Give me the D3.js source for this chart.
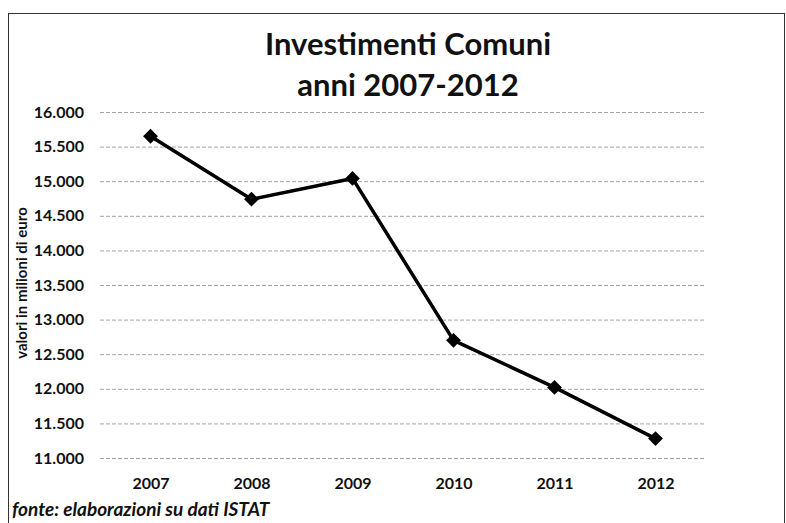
<!DOCTYPE html>
<html>
<head>
<meta charset="utf-8">
<script src="https://cdn.jsdelivr.net/npm/d3@7"></script>
<style>
  html, body { margin: 0; padding: 0; background: #fff; }
  svg { display: block; font-family: Lato, "Open Sans", sans-serif; }
</style>
</head>
<body>
<svg id="chart" width="786" height="523"></svg>
<script>
const years = ["2007", "2008", "2009", "2010", "2011", "2012"];
const values = [15650, 14740, 15040, 12700, 12020, 11280];
const yTickValues = [11000, 11500, 12000, 12500, 13000, 13500, 14000, 14500, 15000, 15500, 16000];
const titleLines = ["Investimenti Comuni", "anni 2007-2012"];
const yAxisTitle = "valori in milioni di euro";
const sourceNote = "fonte: elaborazioni su dati ISTAT";

const svg = d3.select("#chart");
const W = 786, H = 523;
const plot = { left: 100, right: 706, top: 112, bottom: 458 };

const itLocale = d3.formatLocale({ decimal: ",", thousands: ".", grouping: [3], currency: ["€", ""] });
const fmt = itLocale.format(",d");

// outer frame
svg.append("rect")
  .attr("x", 8.5).attr("y", 13.5)
  .attr("width", W - 10).attr("height", H + 20)
  .attr("fill", "none").attr("stroke", "#333").attr("stroke-width", 1);

const x = d3.scalePoint().domain(years).range([plot.left, plot.right]).padding(0.5);
const y = d3.scaleLinear().domain([11000, 16000]).range([plot.bottom, plot.top]);

// y axis with gridlines
const yAxis = svg.append("g")
  .attr("transform", `translate(${plot.left},0)`)
  .call(d3.axisLeft(y).tickValues(yTickValues).tickFormat(fmt)
        .tickSize(-(plot.right - plot.left)).tickPadding(16));
yAxis.select(".domain").remove();
yAxis.selectAll(".tick line")
  .attr("stroke", "#9a9a9a").attr("stroke-width", 0.9).attr("stroke-dasharray", "4,2");
yAxis.selectAll(".tick text")
  .attr("font-size", 16).attr("font-weight", 700).attr("fill", "#111")
  .attr("font-family", "Lato, sans-serif");

// x axis labels
const xAxis = svg.append("g")
  .attr("transform", `translate(0,${plot.bottom})`)
  .call(d3.axisBottom(x).tickSize(0).tickPadding(20));
xAxis.select(".domain").remove();
xAxis.selectAll(".tick text")
  .attr("font-size", 16).attr("font-weight", 700).attr("fill", "#111")
  .attr("font-family", "Lato, sans-serif");

// line
const line = d3.line().x((d, i) => x(years[i])).y(d => y(d));
svg.append("path")
  .datum(values)
  .attr("d", line)
  .attr("fill", "none").attr("stroke", "#000").attr("stroke-width", 3.5)
  .attr("stroke-linejoin", "round");

// diamond markers
const diamond = d3.symbol().type(d3.symbolSquare).size(110);
svg.append("g").selectAll("path")
  .data(values)
  .join("path")
  .attr("d", diamond)
  .attr("transform", (d, i) => `translate(${x(years[i])},${y(d)}) rotate(45)`)
  .attr("fill", "#000");

// title
svg.append("text")
  .attr("text-anchor", "middle")
  .attr("font-size", 31).attr("font-weight", 700).attr("fill", "#111")
  .selectAll("tspan").data(titleLines).join("tspan")
  .attr("x", 408).attr("y", (d, i) => 55 + i * 41)
  .text(d => d);

// y axis title
svg.append("text")
  .attr("transform", `translate(27,283) rotate(-90)`)
  .attr("text-anchor", "middle")
  .attr("font-size", 15).attr("font-weight", 700).attr("fill", "#111")
  .text(yAxisTitle);

// source note
svg.append("text")
  .attr("x", 12).attr("y", 516)
  .attr("font-size", 19).attr("font-weight", 700).attr("font-style", "italic").attr("fill", "#111")
  .text(sourceNote);
</script>
</body>
</html>
